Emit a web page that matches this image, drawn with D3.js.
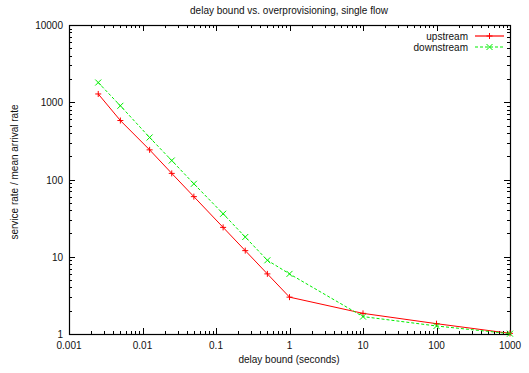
<!DOCTYPE html>
<html>
<head>
<meta charset="utf-8">
<script src="https://d3js.org/d3.v7.min.js"></script>
<style>
  body { margin: 0; background: #fff; }
  text { font-family: "Liberation Sans", Arial, sans-serif; font-size: 10px; fill: #111; }
</style>
</head>
<body>
<svg width="529" height="373"></svg>
<script>
// data
var delays = [0.0025, 0.005, 0.0125, 0.025, 0.05, 0.125, 0.25, 0.5, 1, 10, 100, 1000];
var upstream = [1280, 580, 242, 120, 60, 24, 12, 6, 3, 1.85, 1.36, 1.02];
var downstream = [1800, 900, 350, 176, 88, 36, 18, 9, 6, 1.68, 1.27, 1.01];
var xTicks = [0.001, 0.01, 0.1, 1, 10, 100, 1000];
var yTicks = [1, 10, 100, 1000, 10000];
var seriesNames = ["upstream", "downstream"];

var svg = d3.select("svg"),
    m = {left: 69, right: 19, top: 25, bottom: 39},
    W = 529, H = 373;

var x = d3.scaleLog().domain([0.001, 1000]).range([m.left, W - m.right]);
var y = d3.scaleLog().domain([1, 10000]).range([H - m.bottom, m.top]);

var g = svg.append("g");

// minor ticks for log axes
function minors(domain) {
    var out = [];
    for (var d = domain[0]; d < domain[1]; d *= 10)
        for (var k = 2; k < 10; k++) out.push(d * k);
    return out;
}

var x0 = m.left, x1 = W - m.right, y0 = H - m.bottom, y1 = m.top;

// major + minor ticks, mirrored on all sides, pointing inward
var tk = g.append("g").attr("stroke", "#000").attr("stroke-width", 1);
xTicks.forEach(function (v) {
    var px = Math.round(x(v)) + 0.5;
    tk.append("line").attr("x1", px).attr("x2", px).attr("y1", y0).attr("y2", y0 - 6);
    tk.append("line").attr("x1", px).attr("x2", px).attr("y1", y1).attr("y2", y1 + 6);
});
minors(x.domain()).forEach(function (v) {
    var px = Math.round(x(v)) + 0.5;
    tk.append("line").attr("x1", px).attr("x2", px).attr("y1", y0).attr("y2", y0 - 3);
    tk.append("line").attr("x1", px).attr("x2", px).attr("y1", y1).attr("y2", y1 + 3);
});
yTicks.forEach(function (v) {
    var py = Math.round(y(v)) + 0.5;
    tk.append("line").attr("x1", x0).attr("x2", x0 + 6).attr("y1", py).attr("y2", py);
    tk.append("line").attr("x1", x1).attr("x2", x1 - 6).attr("y1", py).attr("y2", py);
});
minors(y.domain()).forEach(function (v) {
    var py = Math.round(y(v)) + 0.5;
    tk.append("line").attr("x1", x0).attr("x2", x0 + 3).attr("y1", py).attr("y2", py);
    tk.append("line").attr("x1", x1).attr("x2", x1 - 3).attr("y1", py).attr("y2", py);
});

// frame
g.append("rect")
    .attr("x", x0 + 0.5).attr("y", y1 + 0.5)
    .attr("width", x1 - x0).attr("height", y0 - y1)
    .attr("fill", "none").attr("stroke", "#000").attr("stroke-width", 1.2);

// tick labels
g.selectAll(".xl").data(xTicks).enter().append("text")
    .attr("x", function (d) { return x(d); })
    .attr("y", y0 + 15)
    .attr("text-anchor", "middle")
    .text(function (d) { return String(d); });
g.selectAll(".yl").data(yTicks).enter().append("text")
    .attr("x", x0 - 6)
    .attr("y", function (d) { return y(d) + 4; })
    .attr("text-anchor", "end")
    .text(function (d) { return String(d); });

// titles
svg.append("text").attr("x", 289).attr("y", 14).attr("text-anchor", "middle")
    .text("delay bound vs. overprovisioning, single flow");
svg.append("text").attr("x", 289).attr("y", 363).attr("text-anchor", "middle")
    .text("delay bound (seconds)");
svg.append("text").attr("transform", "translate(18,172) rotate(-90)")
    .attr("text-anchor", "middle")
    .text("service rate / mean arrival rate");

var line = d3.line()
    .x(function (d) { return x(d[0]); })
    .y(function (d) { return y(d[1]); });

var series = [
    {name: seriesNames[0], vals: upstream, color: "#ff0000", dash: null, mark: "plus"},
    {name: seriesNames[1], vals: downstream, color: "#00ee00", dash: "3,2", mark: "cross"}
];

function marker(sel, cx, cy, type, color) {
    var s = 3;
    var p = type === "plus"
        ? "M" + (cx - s) + "," + cy + "H" + (cx + s) + "M" + cx + "," + (cy - s) + "V" + (cy + s)
        : "M" + (cx - s) + "," + (cy - s) + "L" + (cx + s) + "," + (cy + s) +
          "M" + (cx - s) + "," + (cy + s) + "L" + (cx + s) + "," + (cy - s);
    sel.append("path").attr("d", p).attr("stroke", color).attr("stroke-width", 1).attr("fill", "none");
}

series.forEach(function (s) {
    var pts = delays.map(function (d, i) { return [d, s.vals[i]]; });
    g.append("path").datum(pts)
        .attr("d", line)
        .attr("fill", "none")
        .attr("stroke", s.color)
        .attr("stroke-width", 1)
        .attr("stroke-dasharray", s.dash);
    pts.forEach(function (p) { marker(g, x(p[0]), y(p[1]), s.mark, s.color); });
});

// legend
series.forEach(function (s, i) {
    var ly = 36 + i * 11;
    svg.append("text").attr("x", 468).attr("y", ly + 3.5).attr("text-anchor", "end").text(s.name);
    svg.append("path").attr("d", "M475," + ly + "H504")
        .attr("stroke", s.color).attr("stroke-width", 1.2).attr("fill", "none")
        .attr("stroke-dasharray", s.dash);
    marker(svg, 489.5, ly, s.mark, s.color);
});
</script>
</body>
</html>
